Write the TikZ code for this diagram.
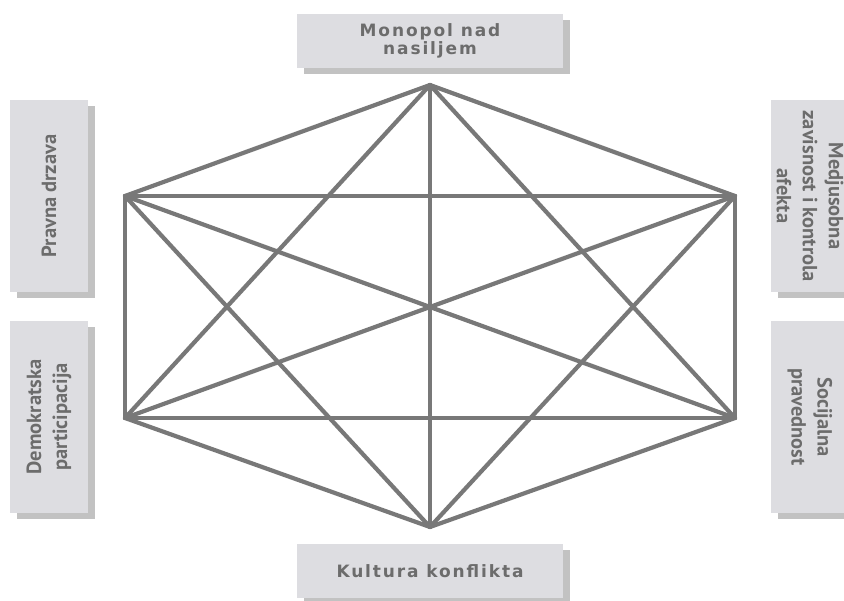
\documentclass[tikz,border=0pt]{standalone}
\usepackage{fontspec}
\setmainfont{DejaVu Sans}
\newfontfamily\sidefont{PT Sans}
\usetikzlibrary{shadows}
\definecolor{boxgray}{HTML}{DDDDE1}
\definecolor{shadowgray}{HTML}{C2C2C2}
\definecolor{textgray}{HTML}{6C6C6C}
\definecolor{linegray}{HTML}{787878}
\tikzset{
  box/.style={fill=boxgray, draw=none, text=textgray, align=center,
    drop shadow={shadow xshift=7pt, shadow yshift=-6pt, fill=shadowgray, opacity=1}},
  hbox/.style={box, minimum width=266pt, minimum height=54pt,
    font=\fontsize{17}{18}\selectfont\bfseries\addfontfeature{LetterSpace=11}},
  vbox/.style={box, minimum width=192pt, minimum height=78pt,
    font=\sidefont\fontsize{20.5}{26}\selectfont\bfseries},
  edge/.style={draw=linegray, line width=4.2pt, line cap=round}
}
\begin{document}
\begin{tikzpicture}[x=1pt,y=-1pt]
\useasboundingbox (0,0) rectangle (844,601);
\fill[white] (0,0) rectangle (844,601);
\node[hbox] (top) at (430,41) {Monopol nad\\nasiljem};
\node[hbox] (bot) at (430,571) {Kultura konflikta};
\node[vbox, rotate=90] (lt) at (49,196) {Pravna drzava};
\node[vbox, rotate=90] (lb) at (49,417) {Demokratska\\participacija};
\node[vbox, rotate=-90] (rt) at (810,196) {Medjusobna\\zavisnost i kontrola\\afekta};
\node[vbox, rotate=-90] (rb) at (810,417) {Socijalna\\pravednost};
\coordinate (A) at (430,85);
\coordinate (B) at (735,196);
\coordinate (C) at (735,418);
\coordinate (D) at (430,527);
\coordinate (E) at (125,418);
\coordinate (F) at (125,196);
\foreach \p/\q in {A/B,A/C,A/D,A/E,A/F,B/C,B/D,B/E,B/F,C/D,C/E,C/F,D/E,D/F,E/F}
  \draw[edge] (\p) -- (\q);
\end{tikzpicture}
\end{document}
